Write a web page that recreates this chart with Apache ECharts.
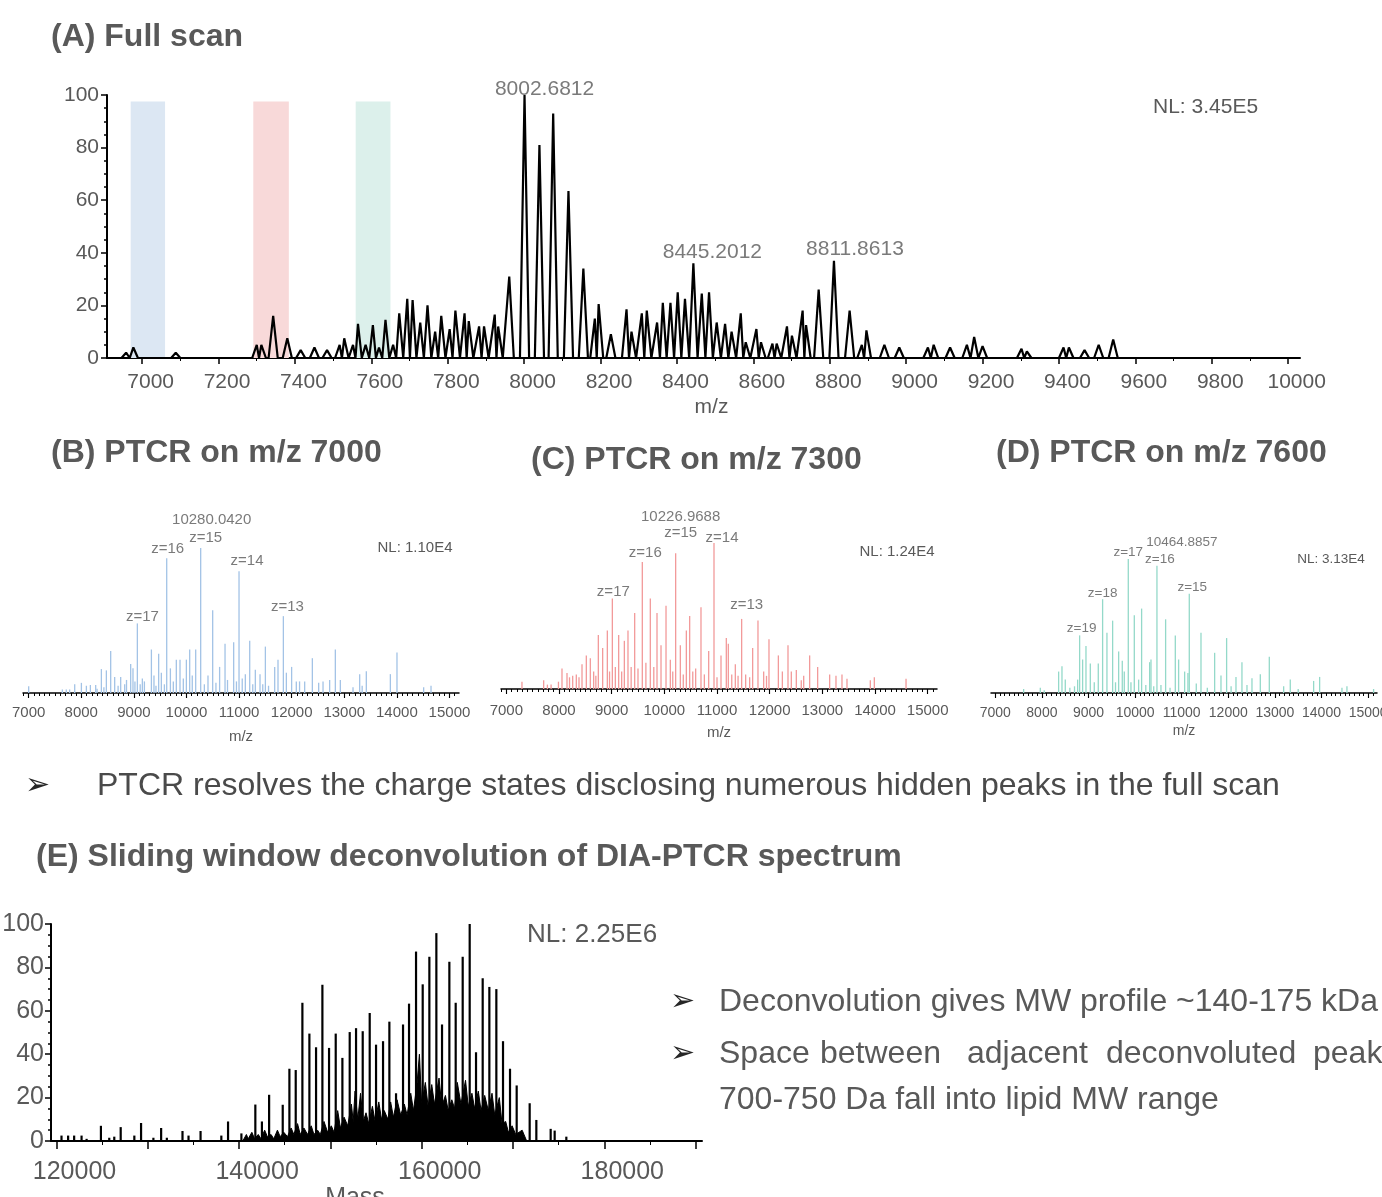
<!DOCTYPE html>
<html>
<head>
<meta charset="utf-8">
<title>DIA-PTCR spectra</title>
<script src="https://cdn.jsdelivr.net/npm/echarts@6.0.0/dist/echarts.min.js"></script>
<style>
  html, body { margin: 0; padding: 0; background: #ffffff; }
  #chart { width: 1382px; height: 1197px; }
</style>
</head>
<body>
<div id="chart"></div>
<script>
// 刻度标签
const ticksA = [7000, 7200, 7400, 7600, 7800, 8000, 8200, 8400, 8600, 8800, 9000, 9200, 9400, 9600, 9800, 10000]
const ticksMz = [7000, 8000, 9000, 10000, 11000, 12000, 13000, 14000, 15000]
const ticksMass = [120000, 130000, 140000, 150000, 160000, 170000, 180000, 190000]
const labelsMass = [120000, 140000, 160000, 180000]

// (A) full scan: [m/z, 相对强度]
const peaksA = [
  [6958, 2], [6977, 4], [7088, 2], [7300, 5], [7312, 5], [7343, 16], [7380, 7.5], [7415, 3],
  [7451, 4], [7484, 3], [7517, 5], [7529, 7.5], [7552, 5], [7565, 13], [7585, 5], [7604, 12.5],
  [7620, 4], [7637, 14.5], [7657, 5], [7673, 17], [7694, 22.5], [7708, 22], [7728, 13.5], [7747, 20],
  [7767, 10], [7783, 16], [7805, 11], [7820, 18], [7844, 17], [7855, 14], [7882, 12], [7895, 12],
  [7923, 16.5], [7932, 12], [7961, 31], [8001, 100], [8040, 81], [8076, 93], [8116, 63.5], [8155, 34],
  [8185, 15], [8195, 20.5], [8227, 9], [8268, 18.5], [8281, 10], [8308, 17], [8321, 18], [8348, 13.5],
  [8363, 21], [8383, 21], [8402, 25], [8421, 22.5], [8443, 36], [8465, 24.5], [8484, 25], [8504, 13.5],
  [8526, 13], [8543, 10], [8567, 17], [8580, 6], [8608, 11], [8620, 6], [8650, 5.5], [8661, 5.5],
  [8688, 12], [8701, 8.5], [8729, 18], [8738, 12.5], [8771, 26], [8811, 37], [8852, 18], [8884, 5],
  [8896, 10.5], [8943, 5], [8982, 4], [9057, 4], [9072, 5], [9115, 4], [9159, 5], [9178, 8],
  [9200, 4.5], [9302, 3.5], [9316, 2.5], [9412, 4], [9426, 4], [9467, 3], [9504, 5], [9542, 7]
]
// 隔离窗口
const bandsA = [[6970, 7060], [7291, 7384], [7559, 7650]]
const labelsA = [[8001, 100, '8002.6812'], [8443, 36, '8445.2012'], [8811, 37, '8811.8613']]

// (B) PTCR on m/z 7000
const peaksB = [
  [7000, 4.6], [7640, 2.5], [7715, 2.5], [7779, 2.5], [7875, 6], [8002, 7], [8097, 5], [8173, 5.5],
  [8274, 5.5], [8300, 3], [8382, 16.5], [8430, 4], [8477, 15.6], [8559, 29], [8635, 11], [8700, 5],
  [8749, 11], [8825, 6], [8860, 9], [8939, 20], [8983, 17], [9020, 8], [9066, 48], [9120, 6],
  [9161, 10], [9200, 8], [9333, 30], [9382, 12], [9420, 5], [9471, 27], [9522, 14], [9580, 6],
  [9624, 93], [9694, 17], [9750, 8], [9807, 23], [9877, 23], [9940, 10], [9998, 23], [10061, 30],
  [10110, 12], [10175, 30], [10270, 100], [10340, 6], [10409, 12], [10498, 57], [10560, 7], [10630, 18],
  [10733, 34], [10780, 9], [10897, 35], [10950, 8], [10999, 84], [11060, 10], [11119, 13], [11202, 36],
  [11260, 6], [11309, 16], [11398, 13], [11450, 6], [11500, 32], [11560, 5], [11677, 18], [11740, 23],
  [11842, 53], [11899, 14], [11999, 18], [12088, 8], [12150, 8], [12247, 8], [12393, 24], [12513, 7],
  [12596, 8], [12722, 9], [12830, 30], [12925, 9], [13166, 4], [13293, 13], [13340, 5], [13419, 15],
  [13876, 13], [14002, 28], [14509, 4], [14649, 5]
]
const labelsB = [[10270, 100, '10280.0420'], [10270, 100, 'z=15'], [9624, 93, 'z=16'],
  [10999, 84, 'z=14'], [9066, 48, 'z=17'], [11842, 53, 'z=13']]

// (C) PTCR on m/z 7300
const peaksC = [
  [7297, 5], [7709, 6], [7780, 3], [7850, 3], [7990, 5], [8057, 14], [8152, 11], [8200, 8],
  [8260, 9], [8329, 10], [8380, 8], [8437, 17], [8519, 23], [8595, 21], [8658, 12], [8700, 9],
  [8747, 37], [8829, 28], [8918, 40], [8960, 12], [9013, 62], [9070, 15], [9133, 37], [9190, 12],
  [9241, 33], [9310, 40], [9370, 15], [9437, 52], [9500, 14], [9582, 87], [9650, 18], [9734, 62],
  [9800, 15], [9861, 52], [9937, 30], [10032, 57], [10114, 20], [10160, 12], [10215, 93], [10304, 30],
  [10360, 10], [10418, 40], [10481, 50], [10540, 12], [10595, 14], [10696, 56], [10760, 10], [10842, 26],
  [10943, 100], [11000, 8], [11076, 23], [11177, 35], [11215, 31], [11280, 10], [11348, 17], [11400, 9],
  [11468, 48], [11544, 10], [11620, 8], [11677, 28], [11778, 47], [11886, 12], [11940, 9], [11987, 34],
  [12165, 23], [12241, 12], [12348, 30], [12411, 12], [12506, 13], [12600, 6], [12646, 9], [12759, 23],
  [12911, 15], [13139, 10], [13259, 9], [13373, 10], [13468, 7], [13911, 6], [13987, 8], [14589, 7]
]
const labelsC = [[10215, 93, '10226.9688'], [10215, 93, 'z=15'], [10943, 100, 'z=14'],
  [9582, 87, 'z=16'], [9013, 62, 'z=17'], [11468, 48, 'z=13']]

// (D) PTCR on m/z 7600
const peaksD = [
  [7608, 3], [7966, 4], [8050, 2], [8359, 16], [8431, 20], [8502, 10], [8600, 4], [8700, 5],
  [8767, 10], [8810, 43], [8874, 25], [8946, 35], [9039, 22], [9124, 8], [9210, 22], [9303, 70],
  [9396, 45], [9518, 54], [9580, 8], [9647, 31], [9725, 24], [9768, 16], [9854, 100], [9911, 8],
  [9983, 58], [10076, 10], [10140, 63], [10230, 6], [10312, 23], [10341, 25], [10400, 5], [10469, 95],
  [10555, 6], [10655, 55], [10750, 4], [10863, 43], [10934, 25], [11063, 16], [11134, 15], [11163, 74],
  [11313, 7], [11414, 45], [11550, 4], [11707, 30], [11843, 13], [11964, 41], [12060, 5], [12165, 12],
  [12293, 23], [12401, 6], [12508, 11], [12687, 14], [12880, 27], [13188, 5], [13330, 10], [13500, 3],
  [13831, 9], [13960, 12], [14439, 4], [14546, 5], [15118, 3]
]
const labelsD = [[10469, 95, '10464.8857'], [9854, 100, 'z=17'], [10469, 95, 'z=16'],
  [11163, 74, 'z=15'], [9303, 70, 'z=18'], [8810, 43, 'z=19']]

// (E) 去卷积质量谱: 主峰
const peaksE = [
  [120550, 2.5], [121275, 2.5], [121935, 2.5], [122747, 2.5], [123300, 1], [124868, 7], [125780, 1.5],
  [126330, 2], [127033, 6.4], [128527, 2.5], [129264, 8.3], [130615, 1.5], [131462, 6], [132088, 1.5],
  [133802, 4.6], [134462, 2.5], [135780, 4.6], [138055, 2.5], [138791, 9], [140253, 3.5], [141780, 16.8],
  [142500, 9], [143290, 21.3], [144780, 16.7], [145510, 33.3], [146203, 32.7], [146933, 63.7], [147700, 49.5],
  [148430, 43.2], [149124, 72], [149853, 42.9], [150584, 49.5], [151314, 38.3], [152116, 50.2], [152810, 52],
  [153540, 50.6], [154306, 59], [155000, 44.4], [155766, 46], [156460, 55], [157190, 22], [157956, 53.7],
  [158613, 63.3], [159380, 87.3], [160110, 72.2], [160840, 84.9], [161606, 95.8], [162227, 53.7],
  [163030, 82.6], [163723, 63.7], [164490, 84.9], [165256, 100], [165950, 40.9], [166680, 75],
  [167410, 71], [168176, 70], [168906, 46], [169673, 33.3], [170403, 25.6], [171826, 17.4],
  [172556, 9.7], [174126, 5.6], [174563, 4.8], [175841, 2]
]
// (E) 密集小峰背景
const grassE = [
  [140400, 0], [140800, 3], [141000, 1], [141400, 4], [141700, 1], [142100, 3], [142400, 1], [142800, 5],
  [143100, 2], [143500, 3], [143800, 1], [144200, 5], [144500, 2], [144900, 4], [145300, 2], [145700, 6],
  [146000, 3], [146400, 8], [146700, 3], [147100, 6], [147500, 3], [147900, 7], [148200, 3], [148600, 5],
  [148900, 3], [149300, 9], [149700, 4], [150100, 7], [150400, 4], [150800, 14], [151100, 6], [151500, 11],
  [151900, 7], [152300, 17], [152500, 9], [152700, 23], [153000, 10], [153300, 22], [153600, 9], [153900, 13],
  [154200, 8], [154600, 16], [154900, 9], [155300, 18], [155600, 10], [155900, 14], [156300, 10], [156600, 18],
  [156900, 11], [157300, 19], [157700, 12], [158100, 17], [158400, 12], [158800, 22], [159100, 14], [159500, 27],
  [159750, 40], [160000, 17], [160400, 27], [160700, 16], [161100, 26], [161400, 17], [161900, 29], [162200, 16],
  [162600, 21], [162900, 14], [163300, 19], [163600, 15], [163900, 27], [164300, 17], [164800, 28], [165100, 16],
  [165500, 22], [165800, 15], [166200, 23], [166500, 14], [166900, 21], [167300, 14], [167700, 22], [168000, 12],
  [168500, 20], [168800, 8], [169200, 9], [169500, 4], [169900, 7], [170300, 3], [171000, 5], [171500, 0]
]

const FONT = '"Liberation Sans", Arial, sans-serif'
const GREY = '#595959'

// 轮廓峰: 每个峰画成窄三角
const profile = (peaks, halfW, xMin, xMax) => {
  const pts = [[xMin, 0]]
  const sorted = peaks.slice().sort((a, b) => a[0] - b[0])
  sorted.forEach((p, i) => {
    const prev = sorted[i - 1]
    if (!prev || p[0] - prev[0] >= 2 * halfW) {
      pts.push([p[0] - halfW, 0])
    } else {
      pts.push([(p[0] + prev[0]) / 2, 0])
    }
    pts.push([p[0], p[1]])
    const next = sorted[i + 1]
    if (!next || next[0] - p[0] >= 2 * halfW) pts.push([p[0] + halfW, 0])
  })
  pts.push([xMax, 0])
  return pts
}

// 次刻度
const minorA = ticksA.slice(0, -1).map(v => v + 100)
const minorMz = []
for (let v = 6900; v <= 15100; v += 100) { if (v % 1000 !== 0) minorMz.push(v) }
const minorMass = ticksMass.map(v => v + 5000)

const plain = v => String(v)
const lbl = (size, margin, extra) => Object.assign({ color: GREY, fontSize: size, fontFamily: FONT, margin: margin, formatter: plain }, extra || {})

const mainX = (grid, min, max, ticks, labels, o) => ({
  type: 'value', gridIndex: grid, min: min, max: max, position: 'bottom',
  axisLine: { show: true, onZero: false, lineStyle: { color: '#000', width: o.lw } },
  axisTick: { show: true, customValues: ticks, length: o.tick, lineStyle: { color: '#000', width: o.lw * 0.75 } },
  axisLabel: lbl(o.size, o.margin, { customValues: labels, padding: o.pad || 0 }),
  splitLine: { show: false },
  name: o.name, nameLocation: 'middle', nameGap: o.nameGap,
  nameTextStyle: { color: GREY, fontSize: o.size, fontFamily: FONT, padding: o.namePad || 0 }
})
const minorX = (grid, min, max, ticks, len) => ({
  type: 'value', gridIndex: grid, min: min, max: max, position: 'bottom',
  axisLine: { show: false, onZero: false },
  axisTick: { show: true, customValues: ticks, length: len, lineStyle: { color: '#000', width: 1 } },
  axisLabel: { show: false }, splitLine: { show: false }
})
const shownY = (grid, size, margin) => ({
  type: 'value', gridIndex: grid, min: 0, max: 100, interval: 20,
  axisLine: { show: true, lineStyle: { color: '#000', width: 2 } },
  axisTick: { show: true, length: 6, lineStyle: { color: '#000', width: 1.5 } },
  minorTick: { show: true, splitNumber: 4, length: 3, lineStyle: { color: '#000', width: 1.5 } },
  axisLabel: lbl(size, margin),
  splitLine: { show: false }
})
const hiddenY = grid => ({ type: 'value', gridIndex: grid, min: 0, max: 100, show: false })

const labelSeries = (xi, yi, recs, offs, size) => ({
  type: 'scatter', xAxisIndex: xi, yAxisIndex: yi, symbolSize: 0, silent: true, clip: false, z: 6,
  data: recs.map((r, i) => ({ value: [r[0], r[1]], name: r[2], label: { offset: offs[i] } })),
  label: { show: true, position: 'inside', formatter: p => p.name, color: GREY, fontSize: size, fontFamily: FONT }
})
const spikes = (xi, yi, peaks, color, w) => ({
  type: 'bar', xAxisIndex: xi, yAxisIndex: yi, data: peaks, barWidth: w, silent: true,
  itemStyle: { color: color }, z: 3
})

const bandColors = ['#dce7f3', '#f8d9d9', '#dcf0eb']

const text = (x, y, str, font, color, align) => ({
  type: 'text', x: x, y: y, silent: true,
  style: { text: str, font: font, fill: color || GREY, verticalAlign: 'middle', align: align || 'left' }
})
const ARROW = '30px "DejaVu Sans"'
const BODY = '32px ' + FONT

// 两端对齐的那一行, 逐词摆放
const justified = ['Space', 'between', 'adjacent', 'deconvoluted', 'peaks']
const justifiedX = [719, 820, 967, 1106, 1313]

const chart = echarts.init(document.getElementById('chart'))
chart.setOption({
  animation: false,
  backgroundColor: '#ffffff',
  grid: [
    { left: 107, top: 95, width: 1193, height: 263, outerBoundsMode: 'none' },
    { left: 23, top: 548, width: 436, height: 145, outerBoundsMode: 'none' },
    { left: 501, top: 543, width: 436, height: 146, outerBoundsMode: 'none' },
    { left: 991, top: 559, width: 386, height: 134, outerBoundsMode: 'none' },
    { left: 51, top: 924, width: 651, height: 217, outerBoundsMode: 'none' }
  ],
  xAxis: [
    mainX(0, 6908, 10031, ticksA, ticksA, { lw: 2, tick: 6, size: 21, margin: 14, pad: [0, 0, 0, 17], name: 'm/z', nameGap: 39, namePad: [0, 0, 0, 16] }),
    minorX(0, 6908, 10031, minorA, 3),
    mainX(1, 6892, 15181, ticksMz, ticksMz, { lw: 1.5, tick: 5, size: 15, margin: 12, name: 'm/z', nameGap: 36 }),
    minorX(1, 6892, 15181, minorMz, 3),
    mainX(2, 6899, 15177, ticksMz, ticksMz, { lw: 1.5, tick: 5, size: 15, margin: 14, name: 'm/z', nameGap: 36 }),
    minorX(2, 6899, 15177, minorMz, 3),
    mainX(3, 6908, 15191, ticksMz, ticksMz, { lw: 1.5, tick: 5, size: 14, margin: 13, name: 'm/z', nameGap: 31 }),
    minorX(3, 6908, 15191, minorMz, 3),
    mainX(4, 119400, 190700, ticksMass, labelsMass, { lw: 2, tick: 8, size: 25, margin: 19, pad: [0, 0, 0, 36], name: 'Mass', nameGap: 36, namePad: [0, 43, 0, 0] }),
    minorX(4, 119400, 190700, minorMass, 4)
  ],
  yAxis: [
    shownY(0, 21, 8),
    hiddenY(1),
    hiddenY(2),
    hiddenY(3),
    shownY(4, 25, 7)
  ],
  series: [
    {
      type: 'line', xAxisIndex: 0, yAxisIndex: 0, data: profile(peaksA, 12, 6908, 10031),
      symbol: 'none', silent: true, z: 3, lineStyle: { color: '#000', width: 2.2 },
      markArea: {
        silent: true,
        data: bandsA.map((b, i) => [
          { xAxis: b[0], yAxis: 0, itemStyle: { color: bandColors[i] } },
          { xAxis: b[1], yAxis: 97.5 }
        ])
      }
    },
    labelSeries(0, 0, labelsA, [[20, -6], [19, -11], [21, -11]], 21),
    spikes(2, 1, peaksB, '#a3c3e6', 1.3),
    labelSeries(2, 1, labelsB, [[11, -28], [5, -10], [1, -9], [8, -10], [5, -7], [4, -9]], 15),
    spikes(4, 2, peaksC, '#f29a9a', 1.3),
    labelSeries(4, 2, labelsC, [[5, -36], [5, -20], [8, -5], [3, -9], [1, -7], [5, -14]], 15),
    spikes(6, 3, peaksD, '#94d9c9', 1.3),
    labelSeries(6, 3, labelsD, [[25, -23], [0, -7], [3, -6], [3, -7], [0, -6], [2, -7]], 13.5),
    {
      type: 'line', xAxisIndex: 8, yAxisIndex: 4, data: grassE, symbol: 'none', silent: true, z: 2,
      lineStyle: { color: '#000', width: 1 }, areaStyle: { color: '#000', opacity: 1 }
    },
    spikes(8, 4, peaksE, '#000', 2.2)
  ],
  graphic: [
    text(51, 37, '(A) Full scan', 'bold 32px ' + FONT),
    text(1153, 107, 'NL: 3.45E5', '21px ' + FONT),
    text(51, 453, '(B) PTCR on m/z 7000', 'bold 32px ' + FONT),
    text(531, 460, '(C) PTCR on m/z 7300', 'bold 32px ' + FONT),
    text(996, 453, '(D) PTCR on m/z 7600', 'bold 32px ' + FONT),
    text(415, 548, 'NL: 1.10E4', '15px ' + FONT, GREY, 'center'),
    text(897, 552, 'NL: 1.24E4', '15px ' + FONT, GREY, 'center'),
    text(1331, 559, 'NL: 3.13E4', '13.5px ' + FONT, GREY, 'center'),
    text(25, 786, '➢', ARROW, '#262626'),
    text(97, 786, 'PTCR resolves the charge states disclosing numerous hidden peaks in the full scan', BODY, '#4a4a4a'),
    text(36, 857, '(E) Sliding window deconvolution of DIA-PTCR spectrum', 'bold 32px ' + FONT),
    text(527, 935, 'NL: 2.25E6', '26px ' + FONT),
    text(670, 1002, '➢', ARROW, '#262626'),
    text(719, 1002, 'Deconvolution gives MW profile ~140-175 kDa', BODY),
    text(670, 1054, '➢', ARROW, '#262626'),
    ...justified.map((w, i) => text(justifiedX[i], 1054, w, BODY)),
    text(719, 1100, '700-750 Da fall into lipid MW range', BODY)
  ]
})
</script>
</body>
</html>
